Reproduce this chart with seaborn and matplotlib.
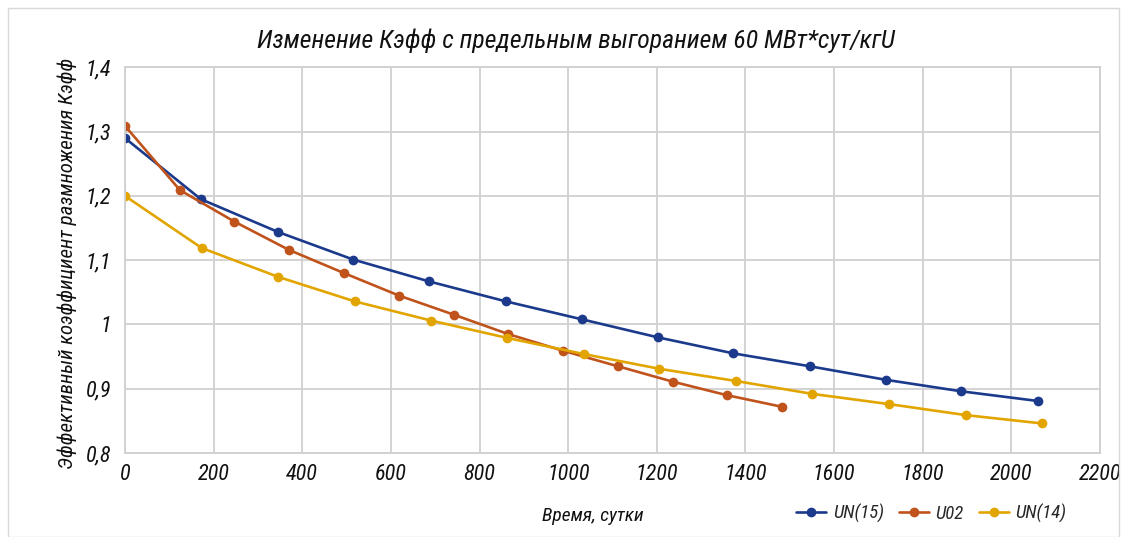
import matplotlib
matplotlib.use("Agg")
import matplotlib.pyplot as plt
import seaborn as sns
import pandas as pd
from matplotlib.patches import Rectangle
from matplotlib.lines import Line2D
from matplotlib import font_manager

# ---- data ----
un15_x = [0, 171, 345, 515, 686, 859, 1031, 1202, 1373, 1545, 1716, 1887, 2059]
un15_y = [1.290, 1.195, 1.144, 1.101, 1.067, 1.036, 1.008, 0.980, 0.955, 0.935, 0.914, 0.896, 0.881]

u02_x = [0, 124, 247, 370, 494, 618, 743, 865, 989, 1112, 1236, 1358, 1482]
u02_y = [1.309, 1.209, 1.160, 1.116, 1.080, 1.045, 1.015, 0.985, 0.959, 0.935, 0.911, 0.890, 0.872]

un14_x = [0, 173, 346, 518, 691, 863, 1035, 1206, 1379, 1551, 1725, 1897, 2069]
un14_y = [1.200, 1.119, 1.074, 1.036, 1.006, 0.979, 0.954, 0.931, 0.912, 0.892, 0.876, 0.859, 0.846]

series_names = ["UN(15)", "U02", "UN(14)"]
series_colors = ["#1b3a8c", "#c0531b", "#e2a500"]

x_ticks = [0, 200, 400, 600, 800, 1000, 1200, 1400, 1600, 1800, 2000, 2200]
y_ticks = [0.8, 0.9, 1.0, 1.1, 1.2, 1.3, 1.4]
y_tick_labels = ["0,8", "0,9", "1", "1,1", "1,2", "1,3", "1,4"]

title = "Изменение Кэфф с предельным выгоранием 60 МВт*сут/кгU"
x_label = "Время, сутки"
y_label = "Эффективный коэффициент размножения Кэфф"

# ---- build long table ----
frames = []
for name, xs, ys in zip(series_names, [un15_x, u02_x, un14_x], [un15_y, u02_y, un14_y]):
    frames.append(pd.DataFrame({"t": xs, "k": ys, "s": name}))
df = pd.concat(frames, ignore_index=True)

sns.set_theme(style="white")
available = {f.name for f in font_manager.fontManager.ttflist}
fams = [f for f in ["Liberation Sans Narrow", "DejaVu Sans Condensed", "Roboto Condensed"] if f in available]
fams += ["DejaVu Sans"]
narrow = fams[0] != "DejaVu Sans"
plt.rcParams["font.family"] = fams
plt.rcParams["font.style"] = "italic"
sc = 1.0 if narrow else 0.85

fig = plt.figure(figsize=(11.22, 5.37), dpi=100)
ax = fig.add_axes([0.1114, 0.1564, 0.8690, 0.7181])

palette = dict(zip(series_names, series_colors))
sns.lineplot(data=df, x="t", y="k", hue="s", palette=palette, sort=False,
             marker="o", markersize=7, markeredgewidth=0, linewidth=1.9,
             legend=False, ax=ax)

ax.set_xlim(0, 2200)
ax.set_ylim(0.8, 1.4)
ax.set_xticks(x_ticks)
ax.set_xticklabels([str(v) for v in x_ticks], fontsize=16 * sc, style="italic")
ax.set_yticks(y_ticks)
ax.set_yticklabels(y_tick_labels, fontsize=16 * sc, style="italic")
ax.tick_params(axis="x", length=0, pad=8, colors="#111111")
ax.tick_params(axis="y", length=0, pad=10, colors="#111111")
ax.grid(True, color="#d0d0d0", linewidth=1.3)
for sp in ax.spines.values():
    sp.set_color("#d0d0d0")
    sp.set_linewidth(1.3)
ax.set_axisbelow(True)
ax.set_xlabel("")
ax.set_ylabel("")

fig.text(0.513, 0.925, title, ha="center", va="center", fontsize=18.5 * sc, style="italic", color="#111111")
fig.text(0.528, 0.04, x_label, ha="center", va="center", fontsize=14 * sc, style="italic", color="#111111")
fig.text(0.060, 0.51, y_label, ha="center", va="center", rotation=90, fontsize=15 * sc, style="italic", color="#111111")

handles = [Line2D([0], [0], color=c, marker="o", markersize=7, markeredgewidth=0, linewidth=1.9)
           for c in series_colors]
fig.legend(handles, series_names, loc="center", bbox_to_anchor=(0.83, 0.044), ncol=3,
           frameon=False, fontsize=13.5 * sc, handlelength=1.6, columnspacing=0.8, handletextpad=0.35)

fig.patches.append(Rectangle((0.007, 0.0), 0.99, 0.985, transform=fig.transFigure,
                             fill=False, edgecolor="#d9d9d9", linewidth=1.0))

fig.savefig("out.png", dpi=100, facecolor="white")
